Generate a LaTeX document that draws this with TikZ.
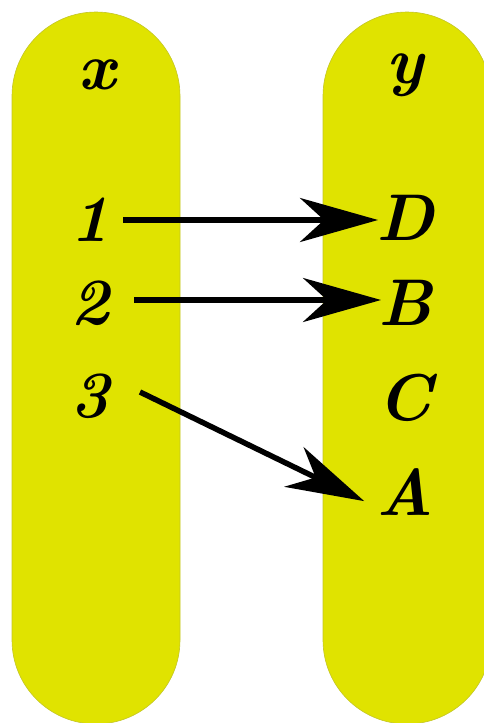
\documentclass[tikz,border=0pt]{standalone}
\usepackage{fontspec}
\usetikzlibrary{arrows.meta}
\definecolor{pill}{RGB}{224,227,0}
\tikzset{
  pillbox/.style={fill=pill, draw=pill!70!gray, line width=0.6pt},
  lbl/.style={font=\fontsize{66}{70}\selectfont\bfseries\itshape, inner sep=0pt, anchor=center},
  arr/.style={line width=5.5pt, -{Stealth[length=78pt, width=44pt, inset=24pt]}, shorten >=2pt}
}
\begin{document}
\begin{tikzpicture}[x=1pt,y=-1pt]
\useasboundingbox (0,0) rectangle (484,723);
\begin{scope}
\clip (0,0) rectangle (484,723);
\path[pillbox] (12,96) arc[start angle=180, end angle=360, radius=84] -- (180,640) arc[start angle=0, end angle=180, radius=84] -- cycle;
\path[pillbox] (323,96) arc[start angle=180, end angle=360, radius=84] -- (491,640) arc[start angle=0, end angle=180, radius=84] -- cycle;
\end{scope}
\node[lbl] (hx) at (97,75) {x};
\node[lbl] (hy) at (405,75) {y};
\node[lbl] (n1) at (90,220) {1};
\node[lbl] (n2) at (90,303) {2};
\node[lbl] (n3) at (90,396) {3};
\node[lbl] (yD) at (405,218) {D};
\node[lbl] (yB) at (405,303) {B};
\node[lbl] (yC) at (405,398) {C};
\node[lbl] (yA) at (405,492) {A};
\coordinate (s1) at (123,220);
\coordinate (e1) at (380,220);
\coordinate (s2) at (134,300);
\coordinate (e2) at (383,300);
\coordinate (s3) at (140,392);
\coordinate (e3) at (366,502);
\draw[arr] (s1) -- (e1);
\draw[arr] (s2) -- (e2);
\draw[arr] (s3) -- (e3);
\end{tikzpicture}
\end{document}
